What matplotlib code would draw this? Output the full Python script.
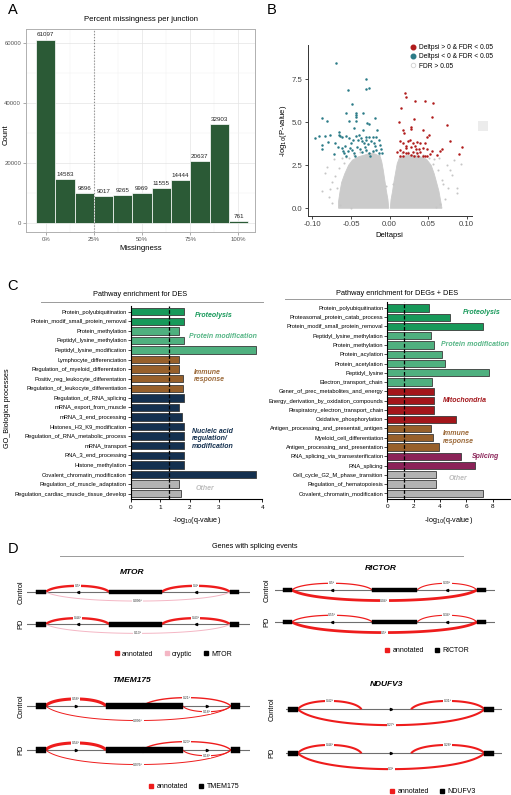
import matplotlib
matplotlib.use("Agg")
import matplotlib.pyplot as plt
import numpy as np
from matplotlib.lines import Line2D
from matplotlib.patches import Rectangle, Polygon

plt.rcParams['font.family'] = ['Liberation Sans', 'DejaVu Sans']

W, H = 511, 795

# ---------------- A: missingness per junction
missing_bins = [0, 10, 20, 30, 40, 50, 60, 70, 80, 90, 100]
junction_counts = [61097, 14583, 9896, 9017, 9265, 9969, 11555, 14444,
                   20637, 32903, 761]

# ---------------- B: volcano
up_dpsi = [0.020, 0.022, 0.015, 0.033, 0.046, 0.057, 0.032, 0.012, 0.055,
           0.074, 0.018, 0.019, 0.028, 0.028, 0.043, 0.051, 0.049, 0.078,
           0.094, 0.090, 0.068, 0.065, 0.062, 0.055, 0.046, 0.044, 0.040,
           0.036, 0.033, 0.030, 0.024, 0.021, 0.017, 0.013, 0.010, 0.013,
           0.017, 0.021, 0.024, 0.028, 0.030, 0.032, 0.035, 0.037, 0.040,
           0.043, 0.046, 0.049, 0.028, 0.022, 0.018, 0.014, 0.048, 0.034,
           0.026, 0.038, 0.052]
up_logp = [6.72, 6.45, 5.81, 6.26, 6.26, 6.14, 5.17, 5.00, 5.33, 4.86,
           4.53, 4.40, 4.75, 4.61, 4.57, 4.28, 4.13, 3.93, 3.58, 3.18,
           3.43, 3.35, 3.10, 3.35, 3.78, 3.53, 3.78, 3.84, 3.62, 3.78,
           3.93, 3.64, 3.78, 3.91, 3.29, 3.39, 3.29, 3.20, 3.24, 3.10,
           3.29, 3.04, 3.20, 3.04, 3.29, 3.04, 3.04, 3.04, 3.55, 3.49,
           3.04, 3.04, 3.43, 3.43, 3.95, 3.45, 3.15]
down_dpsi = [-0.069, -0.031, -0.026, -0.031, -0.054, -0.049, -0.043, -0.043,
             -0.043, -0.043, -0.034, -0.056, -0.087, -0.081, -0.019, -0.052,
             -0.029, -0.026, -0.065, -0.065, -0.064, -0.062, -0.046, -0.034,
             -0.016, -0.077, -0.083, -0.091, -0.096, -0.056, -0.052, -0.044,
             -0.039, -0.037, -0.030, -0.031, -0.026, -0.021, -0.017, -0.014,
             -0.087, -0.088, -0.080, -0.070, -0.067, -0.062, -0.060, -0.059,
             -0.054, -0.051, -0.050, -0.048, -0.046, -0.042, -0.038, -0.035,
             -0.032, -0.030, -0.027, -0.022, -0.019, -0.017, -0.014, -0.012,
             -0.011, -0.010, -0.036, -0.033, -0.028, -0.024, -0.020, -0.041,
             -0.047, -0.057, -0.045, -0.025, -0.072, -0.058]
down_logp = [8.45, 7.50, 6.98, 6.92, 6.86, 6.07, 5.57, 5.41, 5.29, 5.06,
             5.57, 5.52, 5.23, 5.08, 5.27, 5.10, 4.94, 4.88, 4.46, 4.28,
             4.18, 4.12, 4.65, 4.57, 4.57, 4.26, 4.21, 4.21, 4.11, 4.22,
             4.08, 4.20, 4.24, 4.06, 4.16, 4.00, 4.12, 4.12, 4.16, 4.00,
             3.66, 3.43, 3.85, 3.77, 3.58, 3.52, 3.33, 3.20, 3.33, 3.52,
             3.77, 3.38, 3.22, 3.55, 3.47, 3.26, 3.58, 3.38, 3.20, 3.33,
             3.62, 3.38, 3.20, 3.68, 3.43, 3.22, 3.90, 3.80, 3.74, 3.90,
             3.80, 3.95, 3.98, 3.05, 3.05, 3.05, 3.18, 3.60]
# sparse non-significant points around the dense cloud
ns_dpsi = [-0.081, -0.075, -0.084, -0.079, -0.072, -0.050, -0.068, -0.074,
           -0.062, 0.081, 0.087, 0.078, 0.074, 0.068, 0.083, 0.088, 0.072,
           0.064, 0.093, 0.060, -0.088, -0.070, -0.066, -0.059, -0.053,
           -0.046, -0.038, -0.030, -0.021, -0.014, -0.004, 0.004, 0.016,
           0.024, 0.034, 0.043, 0.051, 0.057, 0.063, 0.069, -0.077, 0.076,
           -0.064, 0.066, -0.056, 0.058]
ns_logp = [2.42, 1.55, 2.03, 0.68, 2.85, 0.0, 1.20, 0.30, 2.95, 1.94, 1.20,
           2.23, 2.52, 1.65, 2.81, 0.90, 0.55, 2.90, 2.60, 0.05, 1.00, 1.85,
           2.35, 2.65, 2.95, 3.10, 3.30, 3.32, 3.28, 3.10, 1.30, 1.40, 3.20,
           3.28, 3.25, 3.12, 2.95, 2.60, 2.20, 1.40, 1.10, 1.20, 0.20, 0.25,
           3.00, 2.85]
# outline of the dense non-significant cloud (two lobes)
cloud_left_x = [-0.066, -0.001, -0.002, -0.004, -0.006, -0.008, -0.010,
                -0.012, -0.018, -0.025, -0.032, -0.040, -0.048, -0.053,
                -0.058, -0.062, -0.064, -0.066]
cloud_left_y = [0.0, 0.0, 0.5, 1.0, 1.6, 2.2, 2.7, 3.0, 3.15, 3.2, 3.1,
                3.0, 2.8, 2.5, 2.0, 1.5, 1.0, 0.4]
cloud_right_x = [0.001, 0.068, 0.066, 0.064, 0.061, 0.058, 0.054, 0.048,
                 0.040, 0.030, 0.020, 0.013, 0.010, 0.008, 0.006, 0.004,
                 0.002]
cloud_right_y = [0.0, 0.0, 0.5, 1.0, 1.5, 2.0, 2.5, 2.85, 3.0, 3.1, 3.05,
                 2.95, 2.6, 2.1, 1.6, 1.0, 0.5]

# ---------------- C: pathway enrichment
des_terms = ["Protein_polyubiquitination", "Protein_modif_small_protein_removal",
             "Protein_methylation", "Peptidyl_lysine_methylation",
             "Peptidyl_lysine_modification", "Lymphocyte_differenciation",
             "Regulation_of_myeloid_differentation",
             "Positiv_reg_leukocyte_differentation",
             "Regulation_of_leukocyte_differentiation",
             "Regulation_of_RNA_splicing", "mRNA_export_from_muscle",
             "mRNA_3_end_processing", "Histones_H3_K9_modification",
             "Regulation_of_RNA_metabolic_process", "mRNA_transport",
             "RNA_3_end_processing", "Histone_methylation",
             "Covalent_chromatin_modification", "Regulation_of_muscle_adaptation",
             "Regulation_cardiac_muscle_tissue_develop"]
des_q = [1.80, 1.80, 1.65, 1.80, 4.26, 1.65, 1.65, 1.78, 1.78, 1.80, 1.65,
         1.75, 1.80, 1.80, 1.80, 1.80, 1.80, 4.26, 1.65, 1.72]
des_groups = ["prot", "prot", "mod", "mod", "mod", "imm", "imm", "imm", "imm",
              "nuc", "nuc", "nuc", "nuc", "nuc", "nuc", "nuc", "nuc", "nuc",
              "oth", "oth"]

both_terms = ["Protein_polyubiquitination", "Proteasomal_protein_catab_process",
              "Protein_modif_small_protein_removal", "Peptidyl_lysine_methylation",
              "Protein_methylation", "Protein_acylation", "Protein_acetylation",
              "Peptidyl_lysine", "Electron_transport_chain",
              "Gener_of_prec_metabolites_and_energy",
              "Energy_derivation_by_oxidation_compounds",
              "Respiratory_electron_transport_chain", "Oxidative_phosphorylation",
              "Antigen_processing_and_presentati_antigen",
              "Myeloid_cell_differentiation", "Antigen_processing_and_presentation",
              "RNA_splicing_via_transesterification", "RNA_splicing",
              "Cell_cycle_G2_M_phase_transition", "Regulation_of_hematopoiesis",
              "Covalent_chromatin_modification"]
both_q = [3.20, 4.80, 7.25, 3.30, 3.55, 4.13, 4.36, 7.76, 3.40, 3.55, 3.55,
          3.55, 5.20, 3.35, 3.48, 3.90, 5.58, 6.70, 3.70, 3.70, 7.25]
both_groups = ["prot", "prot", "prot", "mod", "mod", "mod", "mod", "mod", "mod",
               "mito", "mito", "mito", "mito", "imm", "imm", "imm", "spl", "spl",
               "oth", "oth", "oth"]

group_colors = {"prot": "#17995a", "mod": "#4fb07f", "imm": "#97602b",
                "nuc": "#14304f", "mito": "#a3161b", "spl": "#8b2358",
                "oth": "#b3b3b3"}
label_colors = {"prot": "#17995a", "mod": "#55b585", "imm": "#9c6a3a",
                "nuc": "#14304f", "mito": "#a3161b", "spl": "#8b2358",
                "oth": "#bdbdbd"}
q_cutoff = 1.3

# ---------------- D: sashimi-like junction plots
tracks = ["Control", "PD"]

mtor_exons = [(4.2, 8.6), (36.9, 60.5), (91.0, 95.2)]
mtor_start = [8.6, 60.5, 8.6]
mtor_end = [36.9, 91.0, 91.0]
mtor_kind = ["annotated", "annotated", "cryptic"]
mtor_control = ["0.5⁸", "0.4⁸", "0.096⁸"]
mtor_pd = ["0.44⁸", "0.43⁸", "0.13⁸"]

rictor_exons = [(3.5, 7.7), (44.2, 64.7), (91.7, 95.8)]
rictor_start = [7.7, 64.7, 7.7]
rictor_end = [44.2, 91.7, 91.7]
rictor_kind = ["annotated", "annotated", "annotated"]
rictor_control = ["0.5⁸", "0.39⁸", "0.04⁸"]
rictor_pd = ["0.55⁸", "0.34⁸", "0.5⁸"]

tmem_exons = [(4.2, 8.5), (35.5, 51.9), (52.3, 69.9), (91.4, 95.5)]
tmem_start = [8.5, 52.1, 69.9, 8.5]
tmem_end = [35.5, 91.4, 91.4, 91.4]
tmem_kind = ["annotated", "annotated", "annotated", "annotated"]
tmem_control = ["0.58⁸", "0.21⁸", "0.18⁸", "0.096⁸"]
tmem_pd = ["0.54⁸", "0.23⁸", "0.18⁸", "0.076⁸"]

nduf_exons = [(0.8, 5.5), (92.0, 96.2)]
nduf_start = [5.5, 58.0, 5.5]
nduf_end = [35.0, 92.0, 92.0]
nduf_kind = ["annotated", "annotated", "annotated"]
nduf_control = ["0.42⁸", "0.31⁸", "0.27⁸"]
nduf_pd = ["0.44⁸", "0.28⁸", "0.3⁸"]

kind_colors = {"annotated": "#ee1c1c", "cryptic": "#f4b6c4"}

fig = plt.figure(figsize=(W / 100, H / 100), dpi=100)


def px_axes(l, t, r, b):
    return fig.add_axes([l / W, 1 - b / H, (r - l) / W, (b - t) / H])


def px_text(x, y, s, **kw):
    fig.text(x / W, 1 - y / H, s, **kw)


def px_line(x0, x1, y, **kw):
    fig.add_artist(Line2D([x0 / W, x1 / W], [1 - y / H, 1 - y / H], **kw))


# panel letters
for letter, (x, y) in {"A": (13, 10), "B": (272, 10), "C": (13, 286),
                       "D": (13, 549)}.items():
    px_text(x, y, letter, fontsize=10.5, ha="center", va="center")

# ======== A
ax = px_axes(26, 29, 255, 232)
ax.bar(missing_bins, junction_counts, width=10, color="#2b5a36",
       edgecolor="white", linewidth=0.5, zorder=3)
for x, c in zip(missing_bins, junction_counts):
    ax.text(x, c + 700, str(c), ha="center", va="bottom", fontsize=4.5,
            color="#222222", zorder=4)
ax.axvline(25, color="#888888", ls=":", lw=0.8, zorder=4)
ax.set_xlim(-10.2, 108.6)
ax.set_ylim(-3000, 64600)
ax.set_xticks([0, 25, 50, 75, 100], ["0%", "25%", "50%", "75%", "100%"])
ax.set_xticks([12.5, 37.5, 62.5, 87.5], minor=True)
ax.set_yticks([0, 20000, 40000, 60000])
ax.set_yticks([10000, 30000, 50000], minor=True)
ax.grid(True, which="major", color="#e4e4e4", lw=0.5, zorder=0)
ax.grid(True, which="minor", color="#f1f1f1", lw=0.35, zorder=0)
ax.tick_params(which="major", labelsize=4.3, labelcolor="#555555",
               color="#888888", length=2, width=0.5, pad=1.5)
ax.tick_params(which="minor", length=0)
for s in ax.spines.values():
    s.set_color("#b0b0b0")
    s.set_linewidth(0.7)
ax.set_title("Percent missingness per junction", fontsize=5.6, pad=6)
ax.set_xlabel("Missingness", fontsize=5.6, labelpad=2)
px_text(6.5, 135, "Count", fontsize=5.6, rotation=90, ha="center",
        va="center")

# ======== B
ax = px_axes(307.7, 45, 471.7, 216)
ax.add_patch(Polygon(np.column_stack([cloud_left_x, cloud_left_y]),
                     closed=True, fc="#cbcbcb", ec="#cbcbcb", lw=0.6))
ax.add_patch(Polygon(np.column_stack([cloud_right_x, cloud_right_y]),
                     closed=True, fc="#cbcbcb", ec="#cbcbcb", lw=0.6))
ax.scatter(ns_dpsi, ns_logp, s=2.2, color="#c6c6c6", lw=0)
ax.scatter(down_dpsi, down_logp, s=3.2, color="#2b7b87", lw=0, zorder=3)
ax.scatter(up_dpsi, up_logp, s=3.2, color="#b01c1c", lw=0, zorder=3)
ax.set_xlim(-0.106, 0.1065)
ax.set_ylim(-0.45, 9.5)
ax.set_xticks([-0.10, -0.05, 0.0, 0.05, 0.10],
              ["-0.10", "-0.05", "0.00", "0.05", "0.10"])
ax.set_yticks([0, 2.5, 5.0, 7.5], ["0.0", "2.5", "5.0", "7.5"])
ax.tick_params(labelsize=5.6, labelcolor="#444444", length=2, width=0.5,
               pad=1.5)
for side in ["top", "right"]:
    ax.spines[side].set_visible(False)
for side in ["left", "bottom"]:
    ax.spines[side].set_color("#333333")
    ax.spines[side].set_linewidth(0.7)
ax.set_xlabel("Deltapsi", fontsize=5.5, labelpad=3)
ax.set_ylabel("-log$_{10}$(P-value)", fontsize=5.5, labelpad=2)
handles = [Line2D([], [], marker="o", ls="none", color="#b01c1c", markersize=3.3),
           Line2D([], [], marker="o", ls="none", color="#2b7b87", markersize=3.3),
           Line2D([], [], marker="o", ls="none", mfc="white", mec="#d0d0d0",
                  markersize=3.3, mew=0.6)]
fig.legend(handles, ["Deltpsi > 0 & FDR < 0.05", "Deltpsi < 0 & FDR < 0.05",
                     "FDR > 0.05"],
           loc="upper left", bbox_to_anchor=(406.5 / W, 1 - 40.5 / H),
           frameon=False, fontsize=4.8, handlelength=0.8, handletextpad=0.5,
           borderpad=0, labelspacing=0.35)
fig.add_artist(Rectangle((478 / W, 1 - 131 / H), 10 / W, 10 / H,
                         transform=fig.transFigure, fc="#ececec", ec="none"))


# ======== C
def enrichment(box, terms, q, groups, xmax, ticks, ticklabels):
    ax = px_axes(*box)
    pos = np.arange(len(terms))
    ax.barh(pos, q, height=0.78, color=[group_colors[g] for g in groups],
            edgecolor="#3a3a3a", linewidth=0.6, zorder=2)
    ax.axvline(q_cutoff, color="black", ls=(0, (3, 1.5)), lw=0.9, zorder=3)
    ax.set_ylim(len(terms) - 0.4, -0.6)
    ax.set_xlim(0, xmax)
    ax.set_yticks(pos, terms)
    ax.set_xticks(ticks, ticklabels)
    ax.tick_params(axis="y", labelsize=4.15, length=2, width=0.5, pad=0.8)
    ax.tick_params(axis="x", labelsize=4.6, length=2.5, width=0.6, pad=1.5)
    for side in ["top", "right"]:
        ax.spines[side].set_visible(False)
    for side in ["left", "bottom"]:
        ax.spines[side].set_linewidth(0.8)
    ax.set_xlabel("-log$_{10}$(q-value)", fontsize=5.2, labelpad=4)
    return ax


enrichment((130.7, 306, 262.3, 499.3), des_terms, des_q, des_groups,
           4.47, [0, 1, 2, 3, 4.47], ["0", "1", "2", "3", "4"])
enrichment((387.3, 302.4, 510, 498.9), both_terms, both_q, both_groups,
           9.33, [0, 2, 4, 6, 8], ["0", "2", "4", "6", "8"])

px_text(140, 295, "Pathway enrichment for DES", fontsize=5.3, ha="center",
        va="center")
px_line(41, 263, 301.7, color="#9a9a9a", lw=0.7)
px_text(397, 294, "Pathway enrichment for DEGs + DES", fontsize=5.3,
        ha="center", va="center")
px_line(285, 511, 299, color="#9a9a9a", lw=0.7)
px_text(7.5, 408, "GO_Biologica processes", fontsize=5.2, rotation=90,
        ha="center", va="center")

group_text = [(195, 315.7, "Proteolysis", "prot"),
              (189, 336.7, "Protein modification", "mod"),
              (194.3, 376, "Immune\nresponse", "imm"),
              (191.7, 439, "Nucleic acid\nregulation/\nmodification", "nuc"),
              (196, 488.7, "Other", "oth"),
              (463.3, 312, "Proteolysis", "prot"),
              (441, 344.3, "Protein modification", "mod"),
              (443.3, 400, "Mitochondria", "mito"),
              (443.3, 437.5, "Immune\nresponse", "imm"),
              (472.3, 456, "Splicing", "spl"),
              (448.3, 479, "Other", "oth")]
for x, y, s, g in group_text:
    px_text(x, y, s, fontsize=5.0, fontweight="bold", fontstyle="italic",
            color=label_colors[g], ha="left", va="center", linespacing=1.15)

# ======== D
px_text(255, 547, "Genes with splicing events", fontsize=5.2, ha="center",
        va="center")
px_line(60, 463, 555.7, color="#9a9a9a", lw=0.7)


def junction_arc(ax, x0, x1, base, side, h, lw, color, label):
    t = np.linspace(0, 1, 80)
    c = h / 0.75
    xs = [x0, x0 + 0.12 * (x1 - x0), x1 - 0.12 * (x1 - x0), x1]
    ys = [base, base + side * c, base + side * c, base]
    bx = ((1 - t) ** 3 * xs[0] + 3 * (1 - t) ** 2 * t * xs[1]
          + 3 * (1 - t) * t ** 2 * xs[2] + t ** 3 * xs[3])
    by = ((1 - t) ** 3 * ys[0] + 3 * (1 - t) ** 2 * t * ys[1]
          + 3 * (1 - t) * t ** 2 * ys[2] + t ** 3 * ys[3])
    ax.plot(bx, by, color=color, lw=lw, solid_capstyle="butt", zorder=2)
    ax.text((x0 + x1) / 2, base + side * h, label, fontsize=2.4,
            color="#333333", ha="center", va="center", zorder=5,
            bbox=dict(fc="white", ec="none", pad=0.4))


def draw_gene(box, name, title_xy, label_x, legend_xy, exons, starts, ends,
              kinds, usage, sides, heights, widths, exon_h, strand):
    ax = px_axes(*box)
    ax.set_xlim(0, 100)
    ax.set_ylim(-0.6, 1.6)
    ax.axis("off")
    for row, track in enumerate(tracks):
        base = 1 - row
        ax.plot([0, 100], [base, base], color="#6f6f6f", lw=0.8, zorder=1)
        for i in range(len(starts)):
            junction_arc(ax, starts[i], ends[i], base, sides[i], heights[i],
                         widths[i], kind_colors[kinds[i]], usage[track][i])
        for (a, b), (c, d) in zip(exons[:-1], exons[1:]):
            if c - b > 2:
                ax.plot((b + c) / 2, base, marker=strand, color="black",
                        markersize=1.6, zorder=3)
        for a, b in exons:
            ax.add_patch(Rectangle((a, base - exon_h), b - a, 2 * exon_h,
                                   fc="black", ec="black", lw=0.3, zorder=4))
        y_px = box[1] + (1.6 - base) / 2.2 * (box[3] - box[1])
        px_text(label_x, y_px, track, fontsize=5.3, rotation=90,
                ha="center", va="center")
    px_text(title_xy[0], title_xy[1], name, fontsize=6, fontweight="bold",
            fontstyle="italic", ha="center", va="center")
    used = sorted(set(kinds), key=["annotated", "cryptic"].index)
    hs = [Line2D([], [], marker="s", ls="none", color=kind_colors[k],
                 markersize=3) for k in used]
    hs.append(Line2D([], [], marker="s", ls="none", color="black",
                     markersize=3))
    fig.legend(hs, used + [name], loc="center",
               bbox_to_anchor=(legend_xy[0] / W, 1 - legend_xy[1] / H),
               ncol=len(hs), frameon=False, fontsize=5, handlelength=0.7,
               handletextpad=0.4, columnspacing=1.6, borderpad=0)


draw_gene((26.7, 572.6, 250, 643.7), "MTOR", (131.7, 572.3), 20.7,
          (173, 654.3), mtor_exons, mtor_start, mtor_end, mtor_kind,
          {"Control": mtor_control, "PD": mtor_pd},
          [1, 1, -1], [0.19, 0.19, 0.28], [1.7, 1.7, 0.7], 0.075, "<")
draw_gene((275, 570.8, 495, 641.2), "RICTOR", (381, 569), 266.7,
          (427, 650.7), rictor_exons, rictor_start, rictor_end, rictor_kind,
          {"Control": rictor_control, "PD": rictor_pd},
          [1, 1, -1], [0.21, 0.21, 0.33], [0.9, 0.8, 2.0], 0.075, "<")
draw_gene((26.7, 679.6, 250, 776.4), "TMEM175", (131.7, 680.7), 20.7,
          (194, 786.7), tmem_exons, tmem_start, tmem_end, tmem_kind,
          {"Control": tmem_control, "PD": tmem_pd},
          [1, 1, -1, -1], [0.16, 0.19, 0.13, 0.33], [2.2, 1.0, 0.8, 0.7],
          0.06, ">")
draw_gene((286, 682.9, 501.7, 779.7), "NDUFV3", (386.7, 684.3), 271.7,
          (433, 791.7), nduf_exons, nduf_start, nduf_end, nduf_kind,
          {"Control": nduf_control, "PD": nduf_pd},
          [1, 1, -1], [0.19, 0.19, 0.36], [1.5, 1.5, 1.5], 0.06, ">")

fig.savefig("out.png", dpi=100)
